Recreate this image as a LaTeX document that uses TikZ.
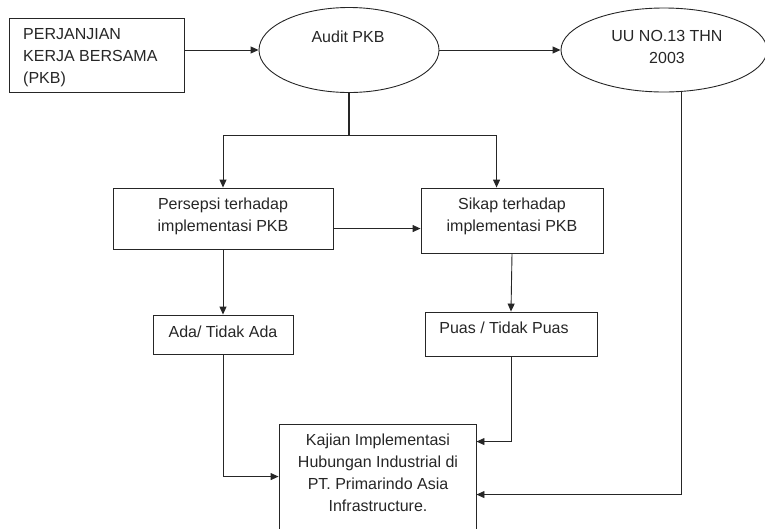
\documentclass[tikz,border=0pt]{standalone}
\usepackage{fontspec}
\setmainfont{Liberation Sans}
\usetikzlibrary{arrows.meta,calc,shapes.geometric}
\begin{document}
\begin{tikzpicture}[x=1pt,y=-1pt,
  shp/.style={draw=black!85,line width=0.9pt,inner sep=0pt},
  rbox/.style={shp,rectangle},
  ebox/.style={shp,ellipse},
  txt/.style={inner sep=0pt,text=black!85,font=\fontsize{16}{22}\selectfont,align=center},
  arr/.style={draw=black!85,line width=0.9pt,-{Triangle[length=8pt,width=7pt]}},
  ln/.style={draw=black!85,line width=0.9pt}]
\useasboundingbox (0,0) rectangle (765,528);
% shapes
\node[rbox,minimum width=175pt,minimum height=74pt] (pkb) at (96.5,55) {};
\node[ebox,minimum width=180pt,minimum height=85pt] (audit) at (349,50) {};
\node[ebox,minimum width=206pt,minimum height=84pt] (uu) at (664,50) {};
\node[rbox,minimum width=220pt,minimum height=61pt] (persepsi) at (223,218.5) {};
\node[rbox,minimum width=182pt,minimum height=65pt] (sikap) at (512,220.5) {};
\node[rbox,minimum width=140pt,minimum height=39pt] (ada) at (223,334.5) {};
\node[rbox,minimum width=172pt,minimum height=44pt] (puas) at (511,334) {};
\node[rbox,minimum width=197pt,minimum height=116pt] (kajian) at (377.5,482) {};
% texts
\node[txt,align=left,anchor=west] (tpkb) at (23,57.5) {PERJANJIAN\\KERJA BERSAMA\\(PKB)};
\node[txt] (taudit) at (348,37) {Audit PKB};
\node[txt] (tuu) at (667,46.5) {UU NO.13 THN\\2003};
\node[txt] (tpers) at (223,216) {Persepsi terhadap\\implementasi PKB};
\node[txt] (tsikap) at (512,216) {Sikap terhadap\\implementasi PKB};
\node[txt] (tada) at (223,332) {Ada/ Tidak Ada};
\node[txt] (tpuas) at (504,328) {Puas / Tidak Puas};
\node[txt] (tkaj) at (378,472.5) {Kajian Implementasi\\Hubungan Industrial di\\PT. Primarindo Asia\\Infrastructure.};
% connectors
\draw[arr] (pkb.east |- audit.west) -- (audit.west);
\draw[arr] (audit.east) -- (uu.west);
\coordinate (jn) at (349,135);
\draw[ln,line width=1.6pt] (audit.south) -- (jn);
\draw[arr] (jn) -| (persepsi.north);
\draw[arr] (jn) -| ($(sikap.north west)+(76,0)$);
\draw[arr] ($(persepsi.north east)+(0,41)$) coordinate (pa) -- (pa -| sikap.west);
\draw[arr] (persepsi.south) -- (ada.north);
\draw[arr] (sikap.south) -- (puas.north);
\draw[arr] (ada.south) |- ($(kajian.north west)+(0,53)$);
\draw[arr] (puas.south) |- ($(kajian.north east)+(0,18)$);
\draw[arr] (uu.-67) |- ($(kajian.north east)+(0,71)$);
\end{tikzpicture}
\end{document}
